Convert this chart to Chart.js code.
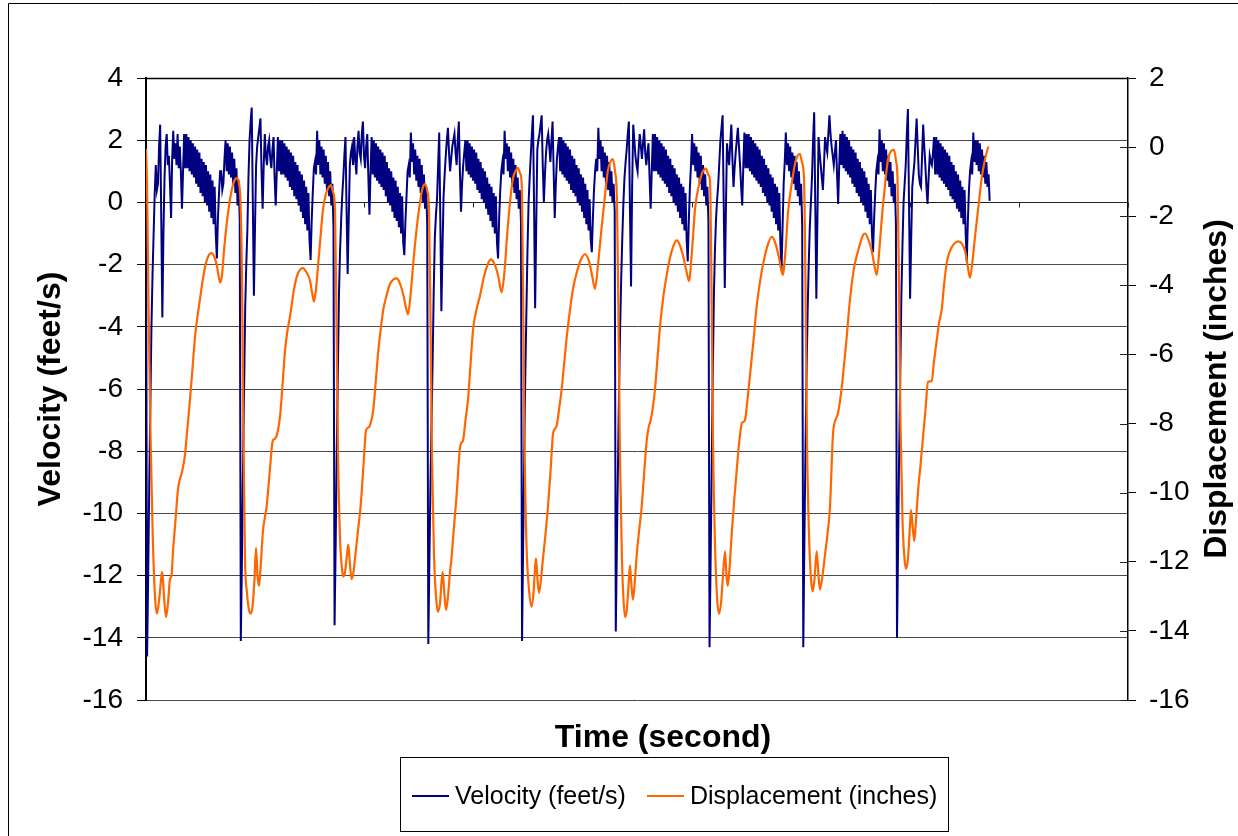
<!DOCTYPE html>
<html>
<head>
<meta charset="utf-8">
<title>Velocity and displacement</title>
<script src="https://cdn.jsdelivr.net/npm/chart.js@4.4.1/dist/chart.umd.min.js"></script>
<style>
  html, body { margin: 0; padding: 0; background: #fff; }
  #wrap { width: 1238px; height: 836px; }
</style>
</head>
<body>
<div id="wrap"><canvas id="chart" width="1238" height="836"></canvas></div>
<script>
// velocity is logged at a fixed sample interval (seconds)
const VEL_DT = 0.0109;
// category axis tick mark interval (seconds)
const TICK_EVERY = 1.091;
const TIME_MAX = 9.82;

// velocity (feet/s), one array per stroke, starting at each downstroke
const velCycle1 = [0.0,
  -14.6, -12.0, -9.0, -6.5, -4.0, -2.3, -1.0, 0.3, 1.2, 0.4, 0.6, 1.8, 2.5, -0.5, -3.7, -1.0, 0.8, 1.8, 2.2, 1.2, 1.5, 0.6, -0.5, 1.4, 2.3, 1.4, 1.9, 1.2, 2.2, 1.1, 1.8, 1.0, -0.2, 1.0,
  2.2, 1.1, 2.2, 1.1, 2.1, 1.0, 2.0, 0.9, 1.9, 0.8, 1.8, 0.6, 1.7, 0.5, 1.6, 0.3, 1.4, 0.2, 1.3, 0.0, 1.2, -0.1, 1.0, -0.3, 0.9, -0.5, 0.7, -0.7, 0.5, -1.0,
  -1.8, -0.5, 0.3, 1.0, 1.0, 0.4, 0.6, 1.4, 2.0,
  1.0, 1.9, 0.9, 1.8, 0.8, 1.6, 0.6, 1.4, 0.3, 1.1, -0.1, 0.7,
  -0.6];
const velCycle2 = [
  -14.1, -11.5, -8.5, -6.0, -3.4, -2.0, -0.9, 0.8, 2.0, 2.6, 3.05, 0.0, -3.0, -0.8, 1.2, 1.8, 2.1, 2.4, 2.7, 1.0, -0.2, 1.2, 2.2, 1.5, 1.2, 1.8, 2.0, 1.4, 1.1, 1.7, 2.1, 0.8, -0.1, 1.0,
  2.1, 1.0, 2.0, 0.9, 2.0, 0.9, 1.9, 0.8, 1.8, 0.7, 1.7, 0.5, 1.6, 0.4, 1.5, 0.2, 1.3, 0.1, 1.2, -0.1, 1.0, -0.3, 0.9, -0.5, 0.7, -0.7, 0.5, -0.9, 0.3, -1.2,
  -1.85, -0.6, 0.3, 1.1, 1.3, 0.9, 2.3, 1.2, 2.0,
  0.9, 1.8, 0.8, 1.7, 0.6, 1.5, 0.4, 1.3, 0.2, 1.0, -0.1, 0.6,
  -0.8];
const velCycle3 = [
  -13.6, -11.0, -8.0, -5.5, -3.0, -1.6, -0.6, 0.2, 0.8, 1.5, 2.1, -0.2, -2.3, -0.5, 1.2, 1.6, 1.8, 1.2, 2.1, 1.4, 0.9, 1.8, 2.3, 1.6, 1.4, 2.2, 2.6, 1.5, 1.1, 1.8, 2.2, 0.8, -0.4, 1.0,
  2.1, 0.9, 2.0, 0.8, 1.9, 0.7, 1.8, 0.6, 1.7, 0.5, 1.6, 0.4, 1.5, 0.2, 1.3, 0.0, 1.1, -0.1, 1.0, -0.3, 0.8, -0.5, 0.7, -0.6, 0.5, -0.8, 0.3, -1.0, 0.2, -1.3,
  -1.7, -0.6, 0.2, 1.0, 1.2, 0.8, 2.25, 1.3, 1.9,
  0.9, 1.7, 0.7, 1.5, 0.5, 1.4, 0.3, 1.2, 0.0, 0.9, -0.2, 0.5,
  -0.7];
const velCycle4 = [
  -14.2, -11.5, -9.0, -7.0, -5.0, -2.8, -1.1, -0.4, 0.1, 1.2, 2.25, -0.5, -3.5, -1.5, 0.2, 0.9, 1.5, 2.0, 2.4, 1.6, 1.0, 1.4, 1.8, 2.0, 2.2, 1.6, 1.2, 2.0, 2.6, 1.0, -0.3, 0.6, 1.2, 1.6,
  2.0, 1.0, 2.0, 0.9, 1.9, 0.8, 1.8, 0.7, 1.7, 0.6, 1.6, 0.4, 1.4, 0.3, 1.3, 0.1, 1.1, 0.0, 1.0, -0.2, 0.8, -0.4, 0.6, -0.6, 0.5, -0.8, 0.3, -1.0, 0.2, -1.3,
  -1.8, -0.5, 0.4, 1.0, 1.3, 0.9, 2.3, 1.4, 1.9,
  1.0, 1.8, 0.8, 1.6, 0.5, 1.4, 0.3, 1.2, 0.1, 0.8, -0.2, 0.4,
  -0.6];
const velCycle5 = [
  -14.1, -11.0, -8.0, -5.5, -3.5, -1.5, 0.0, 0.8, 1.5, 2.2, 2.8, 0.0, -3.4, -0.8, 1.7, 2.0, 2.2, 2.5, 2.8, 1.2, 0.0, 0.9, 1.6, 2.0, 2.2, 1.8, 1.3, 2.0, 2.6, 1.0, -0.5, 0.6, 1.4, 1.8,
  2.1, 1.0, 2.1, 0.9, 2.0, 0.8, 1.9, 0.7, 1.8, 0.6, 1.7, 0.4, 1.5, 0.3, 1.4, 0.2, 1.2, 0.0, 1.1, -0.1, 0.9, -0.3, 0.8, -0.5, 0.6, -0.7, 0.4, -0.9, 0.1, -1.2,
  -1.6, -0.5, 0.4, 1.0, 1.4, 1.0, 2.4, 1.4, 2.0,
  1.0, 1.8, 0.8, 1.6, 0.6, 1.5, 0.4, 1.3, 0.2, 1.0, 0.0, 0.6,
  -0.3];
const velCycle6 = [
  -13.8, -11.0, -8.5, -6.0, -4.0, -2.4, -1.1, 0.0, 0.8, 1.3, 1.7, 2.2, 2.6, -0.2, -2.7, 0.5, 2.5, 2.0, 1.5, 1.2, 1.0, 1.7, 2.2, 1.8, 1.4, 1.9, 2.35, 1.6, 1.2, 1.6, 1.9, 0.8, -0.2, 1.0,
  2.2, 1.0, 2.2, 1.0, 2.1, 0.9, 2.0, 0.8, 1.9, 0.7, 1.8, 0.6, 1.7, 0.5, 1.5, 0.3, 1.4, 0.2, 1.2, 0.0, 1.1, -0.1, 0.9, -0.3, 0.8, -0.5, 0.6, -0.7, 0.5, -0.9, 0.3, -1.2,
  -1.9, -0.6, 0.5, 1.2, 2.2, 1.2, 1.9,
  1.0, 1.8, 0.8, 1.6, 0.6, 1.5, 0.4, 1.2, 0.2, 0.9, -0.1, 0.5,
  -0.6];
const velCycle7 = [
  -14.3, -11.5, -8.5, -5.5, -3.0, -1.5, -0.5, 0.1, 0.6, 1.3, 2.0, 2.4, 2.8, 0.0, -2.75, -0.3, 1.9, 1.5, 1.2, 1.9, 2.5, 1.4, 0.5, 1.1, 1.6, 2.0, 2.4, 1.8, 1.2, 0.5, -0.1, 1.2,
  2.25, 1.1, 2.2, 1.1, 2.2, 1.0, 2.1, 0.9, 2.0, 0.8, 1.9, 0.7, 1.8, 0.6, 1.7, 0.5, 1.5, 0.3, 1.4, 0.2, 1.2, 0.0, 1.1, -0.1, 0.9, -0.3, 0.8, -0.5, 0.6, -0.7, 0.5, -0.9, 0.3, -1.3,
  -2.2, -0.8, 0.6, 1.3, 2.25, 1.2, 1.9,
  1.0, 1.8, 0.8, 1.6, 0.6, 1.5, 0.4, 1.3, 0.2, 1.0, -0.1, 0.6,
  -0.7];
const velCycle8 = [
  -14.3, -11.0, -8.0, -5.5, -3.5, -2.0, -0.8, 0.0, 0.8, 2.0, 2.9, 0.0, -3.1, -0.5, 2.1, 1.6, 1.2, 0.8, 0.4, 1.2, 2.1, 1.8, 1.6, 2.2, 2.8, 2.2, 1.8, 1.5, 1.2, 1.6, 2.0, 0.9, -0.05, 1.2,
  2.2, 1.2, 2.3, 1.1, 2.2, 1.0, 2.1, 0.9, 2.0, 0.8, 1.8, 0.6, 1.7, 0.5, 1.6, 0.3, 1.4, 0.2, 1.3, 0.0, 1.1, -0.1, 1.0, -0.3, 0.8, -0.5, 0.6, -0.7, 0.4, -1.0,
  -1.6, -0.5, 0.3, 1.0, 1.3, 0.9, 2.35, 1.3, 2.0,
  1.0, 1.9, 0.9, 1.7, 0.7, 1.5, 0.5, 1.3, 0.2, 1.0, 0.0, 0.6,
  -0.7];
const velCycle9 = [
  -14.0, -11.0, -8.0, -5.5, -3.0, -1.4, 0.0, 0.6, 1.2, 2.2, 3.0, 0.0, -3.1, -1.2, 0.5, 0.9, 1.3, 2.0, 2.7, 1.8, 0.9, 0.6, 0.5, 1.5, 2.5, 1.8, 1.2, 0.5, -0.05, 0.8, 1.5, 1.3, 1.2, 1.6,
  2.1, 0.9, 2.1, 0.9, 2.0, 0.8, 1.9, 0.7, 1.8, 0.6, 1.7, 0.5, 1.6, 0.4, 1.5, 0.2, 1.3, 0.1, 1.2, 0.0, 1.0, -0.2, 0.9, -0.3, 0.7, -0.5, 0.5, -0.7, 0.4, -1.0,
  -1.9, -0.6, 0.4, 1.0, 1.3, 0.9, 2.25, 1.3, 2.0,
  1.2, 2.0, 1.0, 1.9, 0.9, 1.7, 0.8, 1.5, 0.6, 1.3, 0.5, 0.9,
  0.05];

// displacement (inches) as [time s, value] per stroke
const dispCycle1 = [[0.00, -0.05], [0.01, -1.0], [0.025, -4.5], [0.045, -8.3], [0.067, -11.2], [0.09, -13.0], [0.11, -13.5], [0.135, -13.0], [0.155, -12.4], [0.163, -12.3], [0.18, -13.0], [0.20, -13.6], [0.22, -13.2], [0.24, -12.5], [0.255, -12.4], [0.27, -11.7], [0.295, -10.8], [0.32, -9.9], [0.34, -9.6], [0.36, -9.4], [0.39, -8.9], [0.415, -8.1], [0.44, -7.3], [0.465, -6.4], [0.49, -5.5], [0.515, -4.9], [0.54, -4.4], [0.57, -3.8], [0.60, -3.35], [0.63, -3.12], [0.655, -3.07], [0.68, -3.15], [0.71, -3.45], [0.73, -3.8], [0.745, -3.92], [0.76, -3.7], [0.78, -3.0], [0.80, -2.4], [0.825, -1.8], [0.85, -1.35], [0.88, -1.0], [0.91, -0.9], [0.93, -1.05], [0.945, -1.6]];
const dispCycle2 = [[0.96, -3.8], [0.975, -8.5], [0.99, -11.9], [1.01, -12.9], [1.03, -13.4], [1.047, -13.5], [1.065, -13.3], [1.085, -12.5], [1.10, -11.6], [1.115, -12.4], [1.13, -12.7], [1.145, -12.2], [1.17, -11.1], [1.19, -10.7], [1.21, -10.3], [1.24, -9.3], [1.267, -8.5], [1.285, -8.45], [1.307, -8.35], [1.34, -7.8], [1.365, -6.9], [1.39, -5.9], [1.415, -5.3], [1.44, -4.9], [1.465, -4.4], [1.49, -3.96], [1.52, -3.65], [1.55, -3.52], [1.57, -3.5], [1.60, -3.6], [1.64, -3.86], [1.66, -4.2], [1.68, -4.47], [1.70, -4.1], [1.72, -3.45], [1.745, -2.6], [1.77, -1.8], [1.795, -1.4], [1.82, -1.2], [1.85, -1.1], [1.87, -1.3], [1.89, -1.8]];
const dispCycle3 = [[1.905, -5.0], [1.92, -8.8], [1.94, -11.3], [1.96, -12.2], [1.973, -12.43], [1.99, -12.3], [2.01, -11.8], [2.023, -11.5], [2.04, -12.1], [2.057, -12.5], [2.075, -12.3], [2.09, -11.9], [2.12, -11.1], [2.147, -10.36], [2.175, -9.2], [2.20, -8.2], [2.22, -8.12], [2.24, -8.05], [2.273, -7.6], [2.30, -6.7], [2.323, -5.9], [2.35, -5.2], [2.373, -4.7], [2.405, -4.3], [2.44, -3.96], [2.475, -3.83], [2.507, -3.8], [2.54, -3.95], [2.573, -4.27], [2.60, -4.65], [2.62, -4.84], [2.645, -4.3], [2.673, -3.34], [2.705, -2.4], [2.74, -1.6], [2.765, -1.2], [2.79, -1.07], [2.815, -1.3], [2.83, -1.8]];
const dispCycle4 = [[2.845, -5.0], [2.86, -9.0], [2.88, -11.8], [2.90, -13.0], [2.92, -13.45], [2.94, -13.2], [2.955, -12.6], [2.967, -12.3], [2.983, -12.9], [3.00, -13.4], [3.02, -13.0], [3.04, -12.3], [3.055, -11.9], [3.07, -11.35], [3.105, -10.1], [3.14, -8.7], [3.155, -8.55], [3.17, -8.5], [3.195, -7.9], [3.22, -7.3], [3.245, -6.3], [3.27, -5.3], [3.305, -4.7], [3.34, -4.3], [3.375, -3.8], [3.41, -3.45], [3.447, -3.25], [3.48, -3.35], [3.52, -3.7], [3.557, -4.2], [3.585, -3.6], [3.61, -2.6], [3.64, -1.6], [3.67, -0.9], [3.695, -0.7], [3.72, -0.6], [3.74, -0.75], [3.757, -1.07]];
const dispCycle5 = [[3.77, -4.0], [3.785, -8.5], [3.805, -11.5], [3.83, -12.8], [3.857, -13.3], [3.875, -12.9], [3.89, -12.2], [3.90, -11.9], [3.915, -12.5], [3.93, -12.9], [3.95, -12.5], [3.97, -11.9], [3.995, -11.2], [4.02, -10.4], [4.045, -9.4], [4.07, -8.3], [4.09, -8.15], [4.107, -8.06], [4.13, -7.6], [4.157, -7.0], [4.18, -6.3], [4.207, -5.5], [4.24, -4.7], [4.27, -4.1], [4.31, -3.6], [4.35, -3.25], [4.39, -3.1], [4.43, -3.3], [4.46, -3.7], [4.49, -4.1], [4.52, -3.4], [4.557, -2.3], [4.59, -1.4], [4.62, -0.66], [4.645, -0.42], [4.667, -0.35], [4.69, -0.7], [4.71, -1.6]];
const dispCycle6 = [[4.725, -5.0], [4.74, -9.0], [4.76, -12.0], [4.775, -13.1], [4.79, -13.6], [4.808, -13.4], [4.825, -12.7], [4.84, -12.1], [4.855, -12.7], [4.87, -13.1], [4.89, -12.5], [4.91, -11.7], [4.935, -11.0], [4.957, -10.4], [4.98, -9.5], [5.007, -8.5], [5.027, -8.1], [5.047, -7.9], [5.07, -7.5], [5.09, -7.0], [5.115, -6.1], [5.14, -5.2], [5.17, -4.4], [5.207, -3.7], [5.24, -3.2], [5.275, -2.85], [5.307, -2.7], [5.34, -2.85], [5.375, -3.2], [5.405, -3.6], [5.43, -3.87], [5.46, -3.0], [5.49, -1.8], [5.525, -1.15], [5.557, -0.78], [5.58, -0.65], [5.60, -0.62], [5.623, -0.8], [5.64, -1.0]];
const dispCycle7 = [[5.655, -4.0], [5.67, -8.5], [5.69, -11.5], [5.71, -13.0], [5.73, -13.5], [5.75, -13.2], [5.77, -12.4], [5.79, -11.7], [5.805, -12.4], [5.817, -12.7], [5.835, -12.2], [5.857, -11.2], [5.88, -10.3], [5.907, -9.35], [5.93, -8.6], [5.957, -8.0], [5.975, -7.95], [5.99, -7.9], [6.015, -7.3], [6.04, -6.6], [6.075, -5.6], [6.107, -4.6], [6.14, -3.9], [6.17, -3.4], [6.21, -2.9], [6.257, -2.6], [6.29, -2.75], [6.33, -3.2], [6.367, -3.7], [6.395, -3.0], [6.42, -1.9], [6.455, -1.1], [6.49, -0.48], [6.515, -0.25], [6.54, -0.2], [6.56, -0.45], [6.58, -0.89]];
const dispCycle8 = [[6.595, -4.0], [6.61, -8.5], [6.63, -11.2], [6.65, -12.5], [6.667, -12.86], [6.685, -12.5], [6.707, -11.7], [6.725, -12.4], [6.74, -12.8], [6.765, -12.4], [6.79, -11.8], [6.815, -11.2], [6.84, -10.4], [6.87, -8.3], [6.895, -7.9], [6.92, -7.7], [6.957, -6.97], [6.98, -6.3], [7.007, -5.5], [7.03, -4.7], [7.057, -3.98], [7.08, -3.5], [7.107, -3.15], [7.14, -2.8], [7.17, -2.55], [7.19, -2.5], [7.22, -2.65], [7.257, -3.0], [7.285, -3.45], [7.307, -3.7], [7.33, -3.1], [7.357, -2.1], [7.39, -1.1], [7.42, -0.35], [7.45, -0.12], [7.48, -0.08], [7.50, -0.4], [7.515, -0.9]];
const dispCycle9 = [[7.53, -4.0], [7.545, -8.0], [7.565, -10.8], [7.585, -11.9], [7.60, -12.2], [7.62, -11.9], [7.635, -11.2], [7.65, -10.5], [7.667, -11.0], [7.683, -11.4], [7.70, -10.8], [7.72, -9.97], [7.745, -9.2], [7.77, -8.4], [7.795, -7.6], [7.82, -6.8], [7.84, -6.78], [7.857, -6.77], [7.88, -6.2], [7.907, -5.6], [7.93, -5.1], [7.957, -4.7], [7.98, -4.0], [8.007, -3.35], [8.04, -3.0], [8.08, -2.8], [8.123, -2.73], [8.16, -2.8], [8.19, -3.0], [8.22, -3.5], [8.24, -3.78], [8.265, -3.3], [8.29, -2.6], [8.325, -1.7], [8.357, -0.9], [8.39, -0.35], [8.423, 0.02]];

const velocityTicks = { min: -16, max: 4, step: 2 };
const displacementTicks = { min: -16, max: 2, step: 2 };

const velocityFeetPerSec = [].concat(velCycle1, velCycle2, velCycle3, velCycle4, velCycle5,
  velCycle6, velCycle7, velCycle8, velCycle9);
const displacementInches = [].concat(dispCycle1, dispCycle2, dispCycle3, dispCycle4, dispCycle5,
  dispCycle6, dispCycle7, dispCycle8, dispCycle9);

const FONT = '"Liberation Sans", Arial, sans-serif';
const NAVY = '#000080';
const ORANGE = '#ff6600';

// frame, zero-line category axis, titles and boxed legend
const chartDecor = {
  id: 'chartDecor',
  beforeDraw(chart) {
    const { ctx, width, height } = chart;
    ctx.save();
    ctx.fillStyle = '#fff';
    ctx.fillRect(0, 0, width, height);
    ctx.strokeStyle = '#000';
    ctx.lineWidth = 1;
    ctx.beginPath();
    ctx.moveTo(8.5, height);
    ctx.lineTo(8.5, 3.5);
    ctx.lineTo(width, 3.5);
    ctx.stroke();
    ctx.restore();
  },
  beforeDatasetsDraw(chart) {
    const { ctx, chartArea: a, scales } = chart;
    ctx.save();
    ctx.strokeStyle = '#222';
    ctx.lineWidth = 1;
    // x axis crosses at velocity 0, tick marks hang below it
    const y0 = Math.round(scales.y.getPixelForValue(0)) + 0.5;
    ctx.beginPath();
    ctx.moveTo(a.left, y0);
    ctx.lineTo(a.right, y0);
    for (let k = 1; k <= 9; k++) {
      const x = Math.round(scales.x.getPixelForValue(k * TICK_EVERY)) + 0.5;
      ctx.moveTo(x, y0);
      ctx.lineTo(x, y0 + 5);
    }
    // right axis tick marks cross the axis line
    scales.y1.ticks.forEach(t => {
      const y = Math.round(scales.y1.getPixelForValue(t.value)) + 0.5;
      ctx.moveTo(a.right - 8, y);
      ctx.lineTo(a.right, y);
    });
    ctx.stroke();
    ctx.restore();
  },
  afterDraw(chart) {
    const { ctx, chartArea: a } = chart;
    const midY = (a.top + a.bottom) / 2;
    ctx.save();
    ctx.strokeStyle = '#000';
    ctx.lineWidth = 1.5;
    ctx.beginPath();
    ctx.moveTo(a.left, a.top + 0.5);
    ctx.lineTo(a.right, a.top + 0.5);
    ctx.stroke();

    ctx.fillStyle = '#000';
    ctx.font = 'bold 32px ' + FONT;
    ctx.textAlign = 'center';
    ctx.textBaseline = 'alphabetic';
    ctx.fillText('Time (second)', 663, 747);

    ctx.save();
    ctx.translate(60, midY);
    ctx.rotate(-Math.PI / 2);
    ctx.fillText('Velocity (feet/s)', 0, 0);
    ctx.restore();

    ctx.save();
    ctx.translate(1226, midY);
    ctx.rotate(-Math.PI / 2);
    ctx.fillText('Displacement (inches)', 0, 0);
    ctx.restore();

    // legend box
    ctx.lineWidth = 1;
    ctx.strokeRect(400.5, 757.5, 548, 74);
    ctx.font = '25px ' + FONT;
    ctx.textAlign = 'left';
    const items = [
      { x: 412, ds: chart.data.datasets[0] },
      { x: 647, ds: chart.data.datasets[1] }
    ];
    items.forEach(it => {
      ctx.strokeStyle = it.ds.borderColor;
      ctx.lineWidth = 2;
      ctx.beginPath();
      ctx.moveTo(it.x, 796);
      ctx.lineTo(it.x + 37, 796);
      ctx.stroke();
      ctx.fillText(it.ds.label, it.x + 43, 804);
    });
    ctx.restore();
  }
};

new Chart(document.getElementById('chart'), {
  type: 'line',
  data: {
    datasets: [{
      label: 'Velocity (feet/s)',
      data: velocityFeetPerSec.map((v, i) => ({ x: i * VEL_DT, y: v })),
      borderColor: NAVY,
      borderWidth: 2,
      pointRadius: 0,
      tension: 0,
      yAxisID: 'y',
      order: 1
    }, {
      label: 'Displacement (inches)',
      data: displacementInches.map(p => ({ x: p[0], y: p[1] })),
      borderColor: ORANGE,
      borderWidth: 2.2,
      pointRadius: 0,
      cubicInterpolationMode: 'monotone',
      yAxisID: 'y1',
      order: 0
    }]
  },
  options: {
    responsive: false,
    animation: false,
    events: [],
    layout: { padding: { top: 78, bottom: 136, left: 0, right: 0 } },
    plugins: {
      legend: { display: false },
      tooltip: { enabled: false }
    },
    scales: {
      x: {
        type: 'linear',
        min: 0,
        max: TIME_MAX,
        display: false
      },
      y: {
        position: 'left',
        min: velocityTicks.min,
        max: velocityTicks.max,
        afterFit(scale) { scale.width = 146; },
        ticks: {
          stepSize: velocityTicks.step,
          color: '#000',
          padding: 14,
          font: { family: FONT, size: 28 }
        },
        grid: { color: '#4a4a4a', lineWidth: 1, tickLength: 9, tickColor: '#000' },
        border: { color: '#000', width: 2 }
      },
      y1: {
        position: 'right',
        min: displacementTicks.min,
        max: displacementTicks.max,
        afterFit(scale) { scale.width = 110; },
        ticks: {
          stepSize: displacementTicks.step,
          color: '#000',
          padding: 13,
          font: { family: FONT, size: 28 }
        },
        grid: { drawOnChartArea: false, tickLength: 8, tickColor: '#000' },
        border: { color: '#000', width: 1.5 }
      }
    }
  },
  plugins: [chartDecor]
});
</script>
</body>
</html>
